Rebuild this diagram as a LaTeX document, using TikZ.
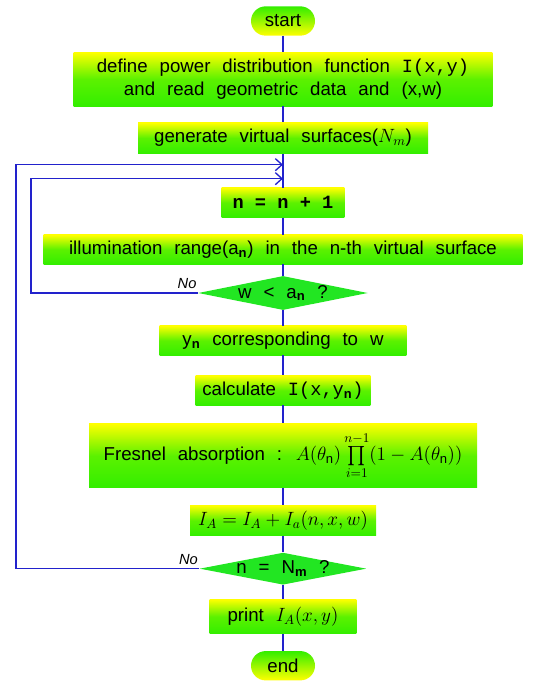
\documentclass[tikz,border=0pt]{standalone}
\usepackage{amsmath}
\usepackage{fontspec}
\setmainfont[WordSpace=2.3]{Liberation Sans}
\setmonofont{Liberation Mono}
\definecolor{gYel}{HTML}{FFFF00}
\definecolor{gGrn}{HTML}{33EE00}
\definecolor{dGrn}{HTML}{22E622}
\definecolor{lnk}{HTML}{2222CC}
\usetikzlibrary{positioning, arrows.meta, shapes.geometric}

\begin{document}
\begin{tikzpicture}[node distance=12.75pt, every node/.style={font=\fontsize{14}{17}\selectfont},
   box/.style={top color=gYel, bottom color=gGrn, middle color=gGrn!80!gYel, inner xsep=2pt, inner ysep=0pt, align=center},
   term/.style={box, top color=gGrn, bottom color=gYel, middle color=gGrn!50!gYel, rounded corners=11pt, minimum width=48pt, minimum height=22pt},
   dec/.style={diamond, fill=dGrn, aspect=5, inner sep=-4pt},
   arr/.style={draw=lnk, line width=1.2pt},
   back/.style={arr, -{Straight Barb[length=5pt, width=9pt, line width=1pt]}},
   nolbl/.style={font=\fontsize{11}{13}\selectfont\itshape, anchor=south east, inner sep=1pt, yshift=2pt}]
  \useasboundingbox (0,0) rectangle (409.5pt,-513pt);
  \node[term] (start) at (212.25pt,-15.75pt) {start};
  \node[box, below=12pt of start, minimum width=314pt, minimum height=40.5pt] (def) {define power distribution function {\ttfamily I(x,y)}\\ and read geometric data and (x,w)};
  \node[box, below=12pt of def, minimum width=217.5pt, minimum height=23pt] (gen) {generate virtual surfaces($N_m$)};
  \node[box, below=25.5pt of gen, minimum width=92pt, minimum height=22pt] (inc) {\ttfamily\bfseries n = n + 1};
  \node[box, below=of inc, minimum width=359pt, minimum height=22pt] (range) {illumination range(a$_{\textbf{n}}$) in the n-th virtual surface};
  \node[dec, below=8.5pt of range, minimum width=127pt, minimum height=25.5pt] (test1) {w < a$_{\textbf{n}}$ ?};
  \node[box, below=11.5pt of test1, minimum width=185pt, minimum height=22pt] (yn) {y$_{\textbf{n}}$ corresponding to w};
  \node[box, below=15pt of yn, minimum width=131pt, minimum height=22pt] (calc) {calculate {\ttfamily I(x,y$_{\textbf{n}}$)}};
  \node[box, below=13.5pt of calc, minimum width=291pt, minimum height=48pt] (fres) {Fresnel absorption : $A(\theta_{\mathrm{n}})\prod\limits_{i=1}^{n-1}(1-A(\theta_{\mathrm{n}}))$};
  \node[box, below=13pt of fres, minimum width=139.5pt, minimum height=22.5pt] (acc) {$I_A=I_A+I_a(n,x,w)$};
  \node[dec, below=12.5pt of acc, minimum width=125pt, minimum height=24pt] (test2) {n = N$_{\textbf{m}}$ ?};
  \node[box, below=10.5pt of test2, minimum width=110pt, minimum height=26pt] (prt) {print $I_A(x,y)$};
  \node[term, below=12.5pt of prt] (stop) {end};
  % loop entry points on the main line
  \coordinate[below=8.25pt of gen] (j1);
  \coordinate[below=18.75pt of gen] (j2);
  \coordinate (xout) at (12pt,0);
  \coordinate (xin) at (23.25pt,0);
  \foreach \i/\j in {start/def,def/gen,gen/inc,inc/range,range/test1,test1/yn,yn/calc,calc/fres,fres/acc,acc/test2,test2/prt,prt/stop} \draw[arr] (\i) -- (\j);
  \draw[back] (test1.west) -- (xin |- test1.west) |- (j2);
  \draw[back] (test2.west) -- (xout |- test2.west) |- (j1);
  \node[nolbl] at (test1.west) {No};
  \node[nolbl] at (test2.west) {No};
\end{tikzpicture}
\end{document}
